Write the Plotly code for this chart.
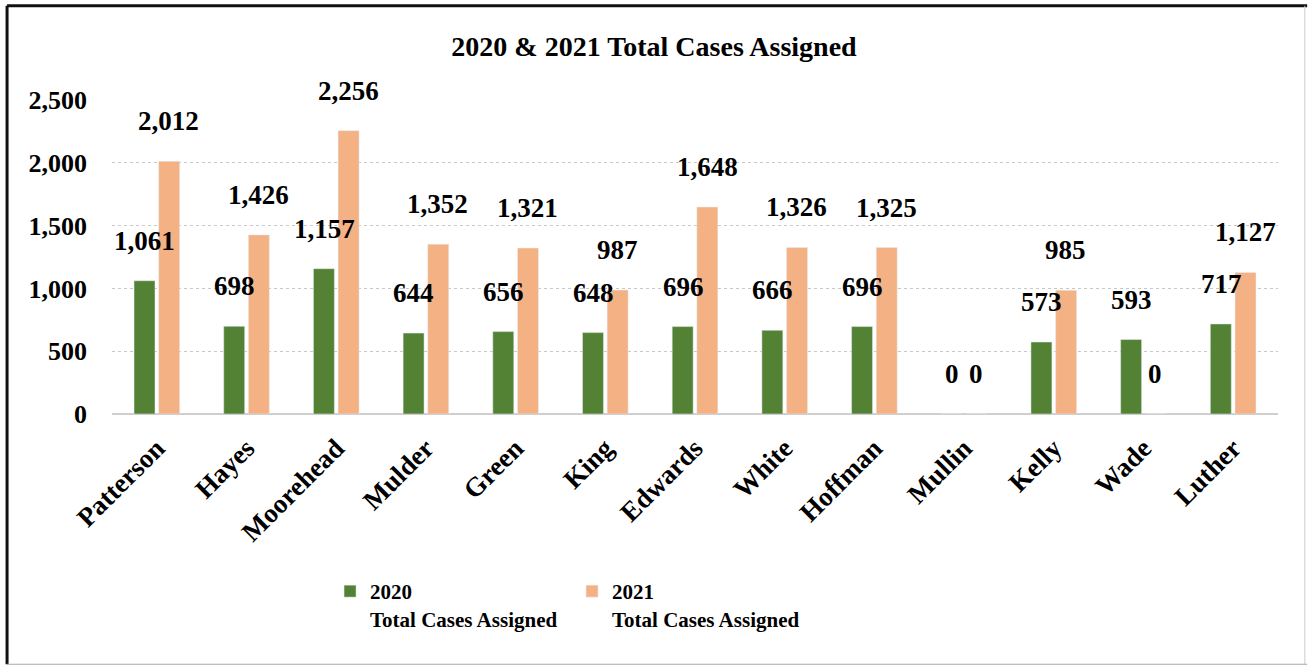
import plotly.graph_objects as go

# ── Data ──────────────────────────────────────────────────────────────────────
NAMES = ["Patterson", "Hayes", "Moorehead", "Mulder", "Green", "King", "Edwards",
         "White", "Hoffman", "Mullin", "Kelly", "Wade", "Luther"]
CASES_2020 = [1061, 698, 1157, 644, 656, 648, 696, 666, 696, 0, 573, 593, 717]
CASES_2021 = [2012, 1426, 2256, 1352, 1321, 987, 1648, 1326, 1325, 0, 985, 0, 1127]
Y_TICKS = [0, 500, 1000, 1500, 2000, 2500]

GREEN = "#548235"
ORANGE = "#F4B183"
FONT = "Liberation Serif, Times New Roman, serif"

fig = go.Figure()
fig.add_trace(go.Bar(x=NAMES, y=CASES_2020, name="<b>2020<br>Total Cases Assigned</b>",
                     marker_color=GREEN))
fig.add_trace(go.Bar(x=NAMES, y=CASES_2021, name="<b>2021<br>Total Cases Assigned</b>",
                     marker_color=ORANGE))

# data labels, lifted above each bar
for vals, dx in ((CASES_2020, -12), (CASES_2021, 12)):
    for name, v in zip(NAMES, vals):
        fig.add_annotation(x=name, y=v, text=f"<b>{v:,}</b>", showarrow=False,
                           xshift=dx, yshift=40, yanchor="middle",
                           font=dict(family=FONT, size=27, color="black"))

# frame around the chart (paper coords reach past the plot area)
frame = [
    dict(x0=-0.090, y0=1.300, x1=1.025, y1=1.300, color="#111111", width=3),
    dict(x0=-0.090, y0=1.300, x1=-0.090, y1=-0.797, color="#111111", width=3),
    dict(x0=1.023, y0=1.300, x1=1.023, y1=-0.797, color="#cccccc", width=1),
    dict(x0=-0.090, y0=-0.797, x1=1.025, y1=-0.797, color="#aaaaaa", width=1),
]
for f in frame:
    fig.add_shape(type="line", xref="paper", yref="paper",
                  x0=f["x0"], y0=f["y0"], x1=f["x1"], y1=f["y1"],
                  line=dict(color=f["color"], width=f["width"]))

fig.update_layout(
    width=1308, height=667,
    margin=dict(l=112, r=30, t=100, b=253),
    paper_bgcolor="white", plot_bgcolor="white",
    font=dict(family=FONT, color="black"),
    title=dict(text="<b>2020 & 2021 Total Cases Assigned</b>", x=0.5, xanchor="center",
               y=0.93, yanchor="middle", font=dict(size=28, family=FONT)),
    barmode="group", bargap=0.45, bargroupgap=0.15,
    showlegend=True,
    legend=dict(orientation="h", x=0.187, y=-0.5, xanchor="left", yanchor="top",
                font=dict(size=21, family=FONT, color="black"), valign="top",
                entrywidth=197, entrywidthmode="pixels",
                bgcolor="rgba(0,0,0,0)"),
)

fig.update_xaxes(tickangle=-45, tickfont=dict(size=27, family=FONT),
                 tickprefix="<b>", ticksuffix="</b>", ticklabelstandoff=12,
                 showline=False, showgrid=False)
fig.update_yaxes(range=[0, 2500], tickvals=Y_TICKS,
                 ticktext=[f"<b>{t:,}</b>" for t in Y_TICKS],
                 tickfont=dict(size=26, family=FONT), ticklabelstandoff=24,
                 showgrid=True, gridcolor="#c8c8c8", griddash="dot", gridwidth=1,
                 zeroline=True, zerolinecolor="#cfcfcf", zerolinewidth=1.5)

# page body has a default margin; drop it so the figure fills the window
fig.write_html("out.html", config={"displayModeBar": False},
               post_script="document.body.style.margin='0';")
